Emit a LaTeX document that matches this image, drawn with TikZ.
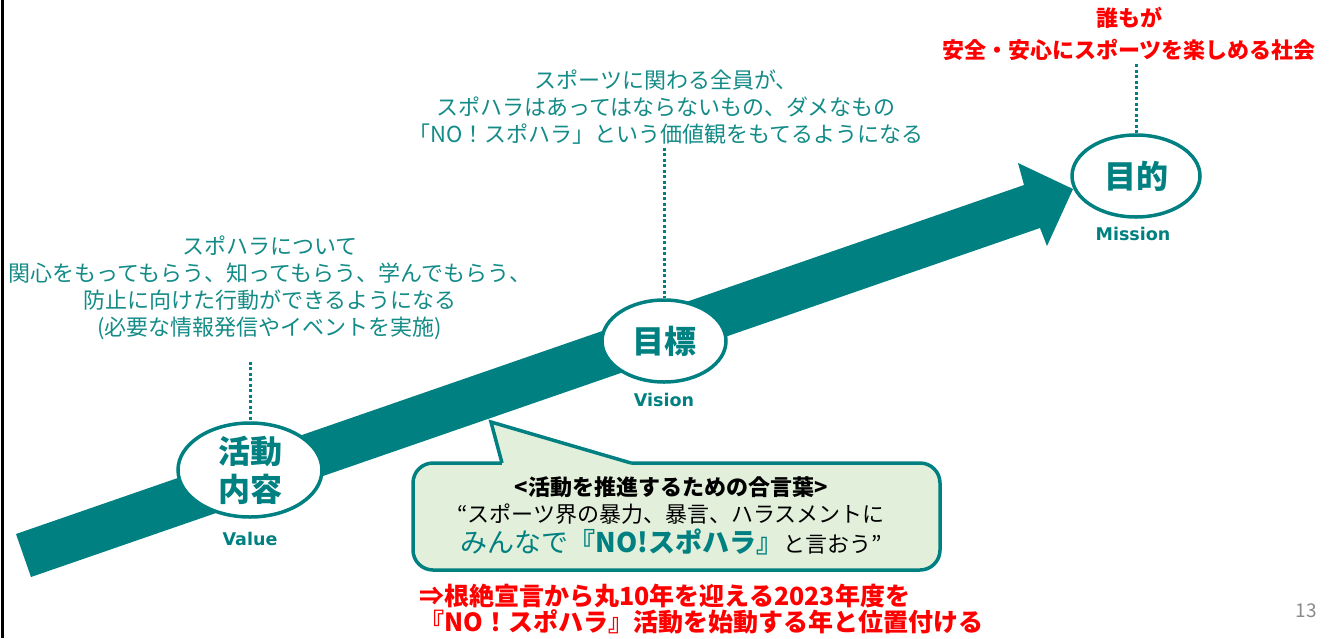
\documentclass[tikz,border=0pt]{standalone}
\usepackage{fontspec}
\setmainfont{Noto Sans CJK JP}
\newfontfamily\tagfont{DejaVu Sans}
\usetikzlibrary{shapes.geometric}
\definecolor{spteal}{HTML}{008080}
\definecolor{sptext}{HTML}{138B87}
\definecolor{spred}{HTML}{FF0000}
\definecolor{spleaf}{HTML}{E2EFDA}
\definecolor{spgray}{HTML}{8A8A8A}

\begin{document}
\begin{tikzpicture}[x=1pt, y=-1pt,
    goal/.style={ellipse, draw=spteal, line width=3.5pt, fill=white, text=spteal, inner sep=-6pt, align=center, font=\fontsize{32}{38}\selectfont\bfseries},
    tag/.style={text=spteal, font=\tagfont\fontsize{17.5}{20}\selectfont\bfseries},
    aim/.style={text=sptext, align=center, font=\fontsize{22}{27}\selectfont},
    dots/.style={spteal, line width=3pt, dash pattern=on 3pt off 2.5pt},
    redline/.style={text=spred, font=\fontsize{25}{26}\selectfont\bfseries}]
    \useasboundingbox (0,0) rectangle (1336,638);
    % Frame edge
    \draw[black, line width=3pt] (2.5,0) -- (2.5,638);
    % Big arrow
    \fill[spteal] (16,534) -- (1024,185) -- (1018,163) -- (1073,189) -- (1047,246) -- (1040,228) -- (31,577) -- cycle;
    % Ellipses
    \node[goal, minimum width=144, minimum height=94] (act) at (250,470) {活動\\内容};
    \node[goal, minimum width=124, minimum height=82] (vis) at (664,341) {目標};
    \node[goal, minimum width=128, minimum height=82] (mis) at (1136,176) {目的};
    \node[tag] (acttag) at (250,539) {Value};
    \node[tag] (vistag) at (664,400) {Vision};
    \node[tag] (mistag) at (1133,234) {Mission};
    % Texts above
    \node[aim] (acttxt) at (270,288) {スポハラについて\\関心をもってもらう、知ってもらう、学んでもらう、\\防止に向けた行動ができるようになる\\(必要な情報発信やイベントを実施)};
    \node[aim] (vistxt) at (666,107) {スポーツに関わる全員が、\\スポハラはあってはならないもの、ダメなもの\\「NO！スポハラ」という価値観をもてるようになる};
    \node[text=spred, align=center, font=\fontsize{22}{32}\selectfont\bfseries] (mistxt) at (1129,34) {誰もが\\安全・安心にスポーツを楽しめる社会};
    % Dotted lines
    \draw[dots, shorten <=18pt] (act.north |- acttxt.south) -- (act.north);
    \draw[dots] (vis.north |- vistxt.south) -- (vis.north);
    \draw[dots] (mis.north |- mistxt.south) -- (mis.north);
    % Speech bubble
    \node[draw=spteal, line width=3.5pt, fill=spleaf, rounded corners=20pt, minimum width=527, minimum height=107] (bubble) at (676.5,516.5) {};
    \fill[spleaf] (502,466) -- (502,463) -- (491,422) -- (631,463) -- (631,466) -- cycle;
    \draw[spteal, line width=3.5pt] (502,463) -- (491,422) -- (631,463);
    \node[align=center, font=\fontsize{22}{27}\selectfont] (slogan) at (671,516) {\textbf{<活動を推進するための合言葉>}\\“スポーツ界の暴力、暴言、ハラスメントに\\[3pt]{\fontsize{27}{30}\selectfont\color{spteal}みんなで\textbf{『NO!スポハラ』}}と言おう”};
    % Bottom note
    \node[redline, align=left, anchor=west] (year) at (416,609) {⇒根絶宣言から丸10年を迎える2023年度を\\『NO！スポハラ』活動を始動する年と位置付ける};
    \node[text=spgray, font=\fontsize{19}{20}\selectfont] (page) at (1306,611) {13};
\end{tikzpicture}
\end{document}
